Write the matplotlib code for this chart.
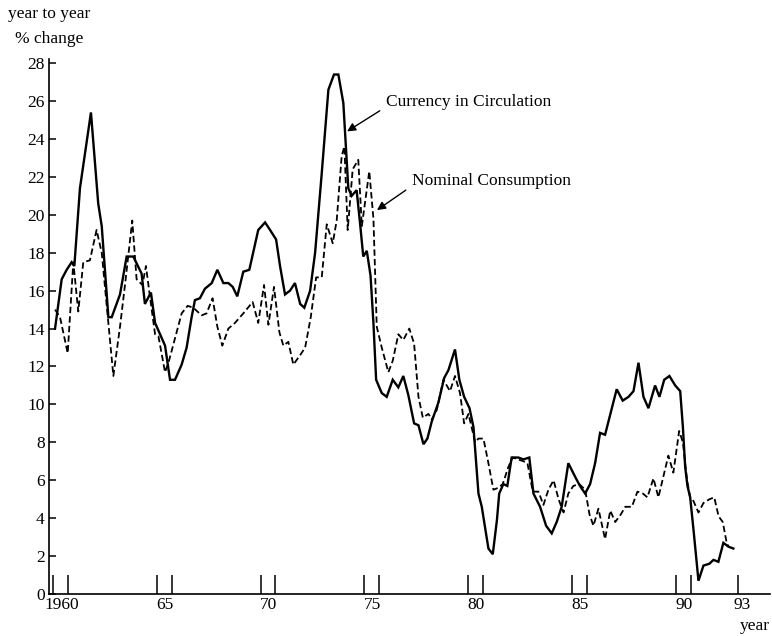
#!/usr/bin/env python3
"""Currency in circulation vs nominal consumption, year-to-year % change."""
import matplotlib
matplotlib.use("Agg")
import matplotlib.pyplot as plt

# --- data (year, % change) ---
currency_year = [
    1960.10, 1960.42, 1960.66, 1960.90, 1961.03, 1961.30, 1961.54, 1961.83, 1962.18, 1962.35,
    1962.67, 1962.83, 1963.23, 1963.55, 1963.87, 1964.27, 1964.43, 1964.72, 1964.92, 1965.40,
    1965.64, 1965.88, 1966.20, 1966.44, 1966.68, 1966.84, 1967.08, 1967.32, 1967.65, 1967.92,
    1968.21, 1968.45, 1968.66, 1968.88, 1969.17, 1969.46, 1969.89, 1970.22, 1970.46, 1970.75,
    1970.94, 1971.18, 1971.42, 1971.66, 1971.91, 1972.11, 1972.39, 1972.63, 1972.95, 1973.27,
    1973.54, 1973.75, 1973.99, 1974.10, 1974.23, 1974.39, 1974.63, 1974.80, 1974.95, 1975.12,
    1975.30, 1975.44, 1975.57, 1975.84, 1976.08, 1976.37, 1976.64, 1976.88, 1977.12, 1977.40,
    1977.61, 1977.85, 1978.04, 1978.25, 1978.57, 1978.85, 1979.05, 1979.37, 1979.58, 1979.81,
    1980.07, 1980.26, 1980.50, 1980.66, 1980.98, 1981.19, 1981.39, 1981.50, 1981.70, 1981.89,
    1982.10, 1982.42, 1982.67, 1982.95, 1983.15, 1983.47, 1983.76, 1984.03, 1984.27, 1984.51,
    1984.83, 1985.15, 1985.39, 1985.64, 1985.88, 1986.12, 1986.36, 1986.60, 1986.88, 1987.16,
    1987.45, 1987.73, 1987.97, 1988.21, 1988.45, 1988.69, 1989.01, 1989.22, 1989.45, 1989.70,
    1989.98, 1990.22, 1990.35, 1990.46, 1990.57, 1990.70, 1990.86, 1991.10, 1991.34, 1991.63,
    1991.82, 1992.06, 1992.30, 1992.54, 1992.78,
]
currency_pct = [
    14.0, 16.6, 17.1, 17.5, 17.3, 21.4, 23.2, 25.4, 20.6, 19.4,
    14.6, 14.6, 15.8, 17.8, 17.8, 16.9, 15.3, 15.9, 14.3, 13.1,
    11.3, 11.3, 12.1, 13.0, 14.6, 15.5, 15.6, 16.1, 16.4, 17.1,
    16.4, 16.4, 16.2, 15.7, 17.0, 17.1, 19.2, 19.6, 19.2, 18.7,
    17.3, 15.8, 16.0, 16.4, 15.3, 15.1, 16.0, 18.0, 22.2, 26.6,
    27.4, 27.4, 25.9, 23.8, 21.4, 21.0, 21.3, 19.5, 17.8, 18.1,
    16.8, 14.3, 11.3, 10.6, 10.4, 11.3, 10.9, 11.5, 10.5, 9.0,
    8.9, 7.9, 8.2, 9.1, 10.1, 11.4, 11.8, 12.9, 11.3, 10.4,
    9.8, 8.8, 5.3, 4.6, 2.4, 2.1, 3.9, 5.3, 5.8, 5.7,
    7.2, 7.2, 7.1, 7.2, 5.3, 4.6, 3.6, 3.2, 3.8, 4.6,
    6.9, 6.2, 5.7, 5.3, 5.8, 6.9, 8.5, 8.4, 9.6, 10.8,
    10.2, 10.4, 10.7, 12.2, 10.4, 9.8, 11.0, 10.4, 11.3, 11.5,
    11.0, 10.7, 8.8, 6.7, 5.7, 5.1, 3.4, 0.7, 1.5, 1.6,
    1.8, 1.7, 2.7, 2.5, 2.4,
]

consumption_year = [
    1960.10, 1960.34, 1960.71, 1960.98, 1961.22, 1961.46, 1961.78, 1962.10, 1962.35, 1962.91,
    1963.23, 1963.47, 1963.82, 1964.03, 1964.31, 1964.48, 1964.67, 1964.92, 1965.08, 1965.40,
    1965.59, 1966.20, 1966.49, 1966.76, 1967.16, 1967.40, 1967.69, 1967.92, 1968.16, 1968.45,
    1968.77, 1969.17, 1969.62, 1969.89, 1970.17, 1970.38, 1970.65, 1970.91, 1971.10, 1971.34,
    1971.58, 1971.91, 1972.15, 1972.42, 1972.68, 1972.95, 1973.19, 1973.48, 1973.67, 1973.91,
    1974.04, 1974.20, 1974.44, 1974.71, 1974.88, 1975.24, 1975.44, 1975.60, 1975.84, 1976.16,
    1976.37, 1976.64, 1976.88, 1977.17, 1977.40, 1977.61, 1977.82, 1978.09, 1978.25, 1978.49,
    1978.81, 1979.13, 1979.37, 1979.61, 1979.81, 1980.02, 1980.34, 1980.50, 1980.74, 1980.98,
    1981.22, 1981.45, 1981.67, 1981.94, 1982.15, 1982.67, 1982.86, 1983.12, 1983.39, 1983.63,
    1983.87, 1984.12, 1984.36, 1984.60, 1984.83, 1985.07, 1985.36, 1985.64, 1985.85, 1986.04,
    1986.28, 1986.60, 1986.85, 1987.09, 1987.36, 1987.57, 1987.89, 1988.16, 1988.42, 1988.64,
    1988.93, 1989.17, 1989.41, 1989.65, 1989.89, 1990.17, 1990.35, 1990.55, 1990.70, 1990.86,
    1991.10, 1991.34, 1991.63, 1991.86, 1992.07, 1992.27, 1992.46, 1992.55,
]
consumption_pct = [
    15.0, 14.6, 12.7, 17.5, 14.9, 17.5, 17.6, 19.2, 18.0, 11.5,
    14.1, 16.3, 19.7, 16.6, 16.3, 17.3, 15.7, 13.7, 13.6, 11.7,
    12.3, 14.8, 15.2, 15.1, 14.7, 14.8, 15.6, 14.1, 13.1, 14.0,
    14.3, 14.8, 15.4, 14.3, 16.3, 14.2, 16.2, 13.8, 13.1, 13.3,
    12.1, 12.6, 13.0, 14.6, 16.7, 16.7, 19.5, 18.5, 19.7, 23.1,
    23.6, 19.2, 22.4, 22.9, 19.4, 22.3, 19.8, 14.1, 13.0, 11.7,
    12.3, 13.7, 13.4, 14.0, 13.2, 10.4, 9.3, 9.5, 9.2, 9.7,
    11.3, 10.7, 11.5, 10.6, 9.0, 9.5, 8.0, 8.2, 8.2, 6.9,
    5.5, 5.6, 5.8, 6.7, 7.2, 7.0, 6.9, 5.4, 5.4, 4.7,
    5.5, 6.0, 5.0, 4.3, 5.3, 5.7, 5.8, 5.5, 4.2, 3.6,
    4.5, 2.9, 4.4, 3.8, 4.2, 4.6, 4.6, 5.4, 5.3, 5.1,
    6.1, 5.1, 6.2, 7.3, 6.4, 8.6, 8.0, 6.0, 5.1, 4.9,
    4.3, 4.8, 5.0, 5.1, 4.1, 3.8, 2.7, 2.5,
]

tick_years = [1960, 1965, 1970, 1975, 1980, 1985, 1990]
tick_labels = ["1960", "65", "70", "75", "80", "85", "90", "93"]
y_ticks = list(range(0, 29, 2))

SERIF = ["Liberation Serif", "DejaVu Serif"]
plt.rcParams["font.family"] = SERIF

fig = plt.figure(figsize=(7.72, 6.36), dpi=100)
ax = fig.add_axes([0.0635, 0.066, 0.934, 0.8407])

ax.plot(currency_year, currency_pct, color="black", linewidth=1.7, solid_joinstyle="miter")
ax.plot(consumption_year, consumption_pct, color="black", linewidth=1.3,
        linestyle=(0, (3.5, 1.8)))

ax.set_xlim(1959.81, 1994.55)
ax.set_ylim(0, 28.2)

for side in ("top", "right"):
    ax.spines[side].set_visible(False)
for side in ("left", "bottom"):
    ax.spines[side].set_linewidth(1.2)

# pairs of tick marks at each labelled year, single one at 93
minor = []
for yr in tick_years:
    minor += [yr, yr + 0.72]
minor.append(1993.0)
ax.set_xticks(minor, minor=True)
label_pos = [yr + 0.4 for yr in tick_years] + [1993.2]
ax.set_xticks(label_pos, tick_labels)
ax.tick_params(axis="x", which="major", length=0, pad=2.5, labelsize=12.5)
ax.tick_params(axis="x", which="minor", direction="in", length=14, width=1.1)

ax.set_yticks(y_ticks, [str(v) for v in y_ticks])
ax.tick_params(axis="y", direction="in", length=5, width=1.1, pad=3, labelsize=12.5)

# series labels with arrows
ax.annotate("Currency in Circulation", xy=(1974.17, 24.4), xytext=(1976.05, 25.95),
            fontsize=12.5, va="center", ha="left",
            arrowprops=dict(arrowstyle="-|>", color="black", lw=1.0,
                            shrinkA=3, shrinkB=0, relpos=(0, 0.2)))
ax.annotate("Nominal Consumption", xy=(1975.61, 20.25), xytext=(1977.30, 21.78),
            fontsize=12.5, va="center", ha="left",
            arrowprops=dict(arrowstyle="-|>", color="black", lw=1.0,
                            shrinkA=3, shrinkB=0, relpos=(0, 0.2)))

fig.text(8 / 772, 1 - 14 / 636, "year to year", fontsize=12.5, va="center", ha="left")
fig.text(15 / 772, 1 - 39 / 636, "% change", fontsize=12.5, va="center", ha="left")
fig.text(770 / 772, 1 - 626 / 636, "year", fontsize=12.5, va="center", ha="right")

fig.savefig("out.png", dpi=100)
